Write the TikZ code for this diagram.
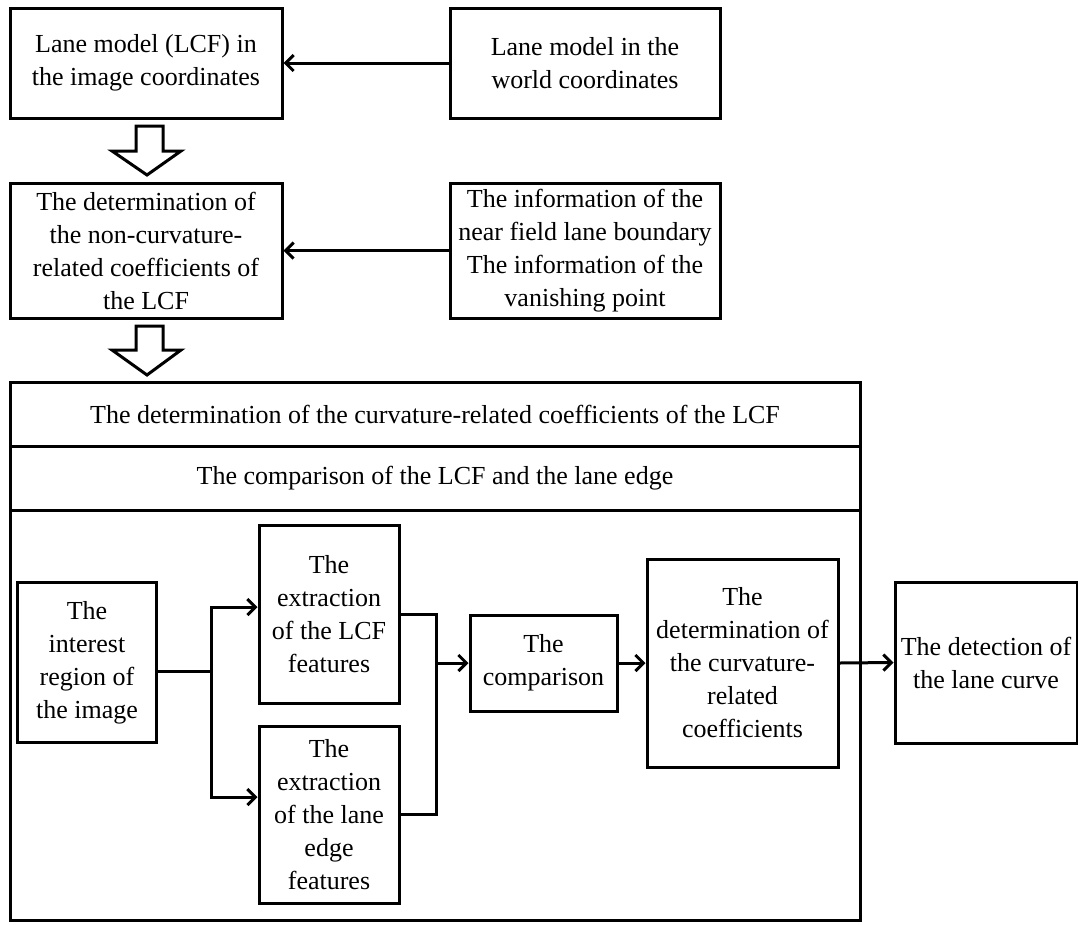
\documentclass[tikz,border=0pt]{standalone}
\usepackage{fontspec}
\setmainfont{Liberation Serif}
\usetikzlibrary{arrows.meta,calc}
\begin{document}
\begin{tikzpicture}[x=1pt,y=-1pt,
  box/.style={draw,line width=3pt,inner sep=0pt,align=center,
    font=\fontsize{26}{33}\selectfont},
  conn/.style={line width=3pt,-{Straight Barb[length=8pt,width=16pt]}},
  plain/.style={line width=3pt},
  hollow/.style={draw,line width=3pt,fill=white,line join=miter}]
\useasboundingbox (0,0) rectangle (1078,924);
% top boxes
\node[box,minimum width=272pt,minimum height=110pt] (A) at (146,63)
  {Lane model (LCF) in\\the image coordinates};
\node[box,minimum width=270pt,minimum height=110pt] (B) at (585,63)
  {Lane model in the\\world coordinates};
\node[box,minimum width=272pt,minimum height=135pt] (C) at (146,250.5)
  {The determination of\\the non-curvature-\\related coefficients of\\the LCF};
\node[box,minimum width=270pt,minimum height=135pt] (D) at (585,250.5)
  {The information of the\\near field lane boundary\\The information of the\\vanishing point};
\draw[conn] (B.west) -- (A.east);
\draw[conn] (D.west) -- (C.east);
% hollow arrows
\draw[hollow] (136,126) -- (163,126) -- (163,151) -- (181,151) -- (147,175)
  -- (112,151) -- (136,151) -- cycle;
\draw[hollow] (136,326) -- (163,326) -- (163,350) -- (181,350) -- (147,375)
  -- (112,350) -- (136,350) -- cycle;
% big box
\node[box,minimum width=850pt,minimum height=64pt] (R1) at (435,414)
  {The determination of the curvature-related coefficients of the LCF};
\node[box,minimum width=850pt,minimum height=64pt] (R2) at (435,478)
  {The comparison of the LCF and the lane edge};
\node[box,minimum width=850pt,minimum height=410pt] (R3) at (435,715) {};
% inner boxes
\node[box,minimum width=139pt,minimum height=160pt] (I) at (87,662.5)
  {The\\interest\\region of\\the image};
\node[box,minimum width=140pt,minimum height=178pt] (L) at (329,614)
  {The\\extraction\\of the LCF\\features};
\node[box,minimum width=140pt,minimum height=177pt] (E) at (329,814.5)
  {The\\extraction\\of the lane\\edge\\features};
\node[box,minimum width=147pt,minimum height=96pt] (P) at (543.5,663)
  {The\\comparison};
\node[box,minimum width=191pt,minimum height=208pt] (Q) at (742.5,663)
  {The\\determination of\\the curvature-\\related\\coefficients};
\node[box,minimum width=182pt,minimum height=161pt] (S) at (986,662.5)
  {The detection of\\the lane curve};
% connectors
\coordinate (j1) at (211,671);
\coordinate (j2) at (436,663);
\draw[plain] (I.east |- j1) -- (j1);
\draw[conn] (j1) |- (L.west |- 0,607);
\draw[conn] (j1) |- (E.west |- 0,797);
\draw[plain] (L.east) -| (j2);
\draw[plain] (E.east) -| (j2);
\draw[conn] (j2) -- (P.west);
\draw[conn] (P.east) -- (Q.west);
\draw[conn] (Q.east) -- (S.west);
\end{tikzpicture}
\end{document}
